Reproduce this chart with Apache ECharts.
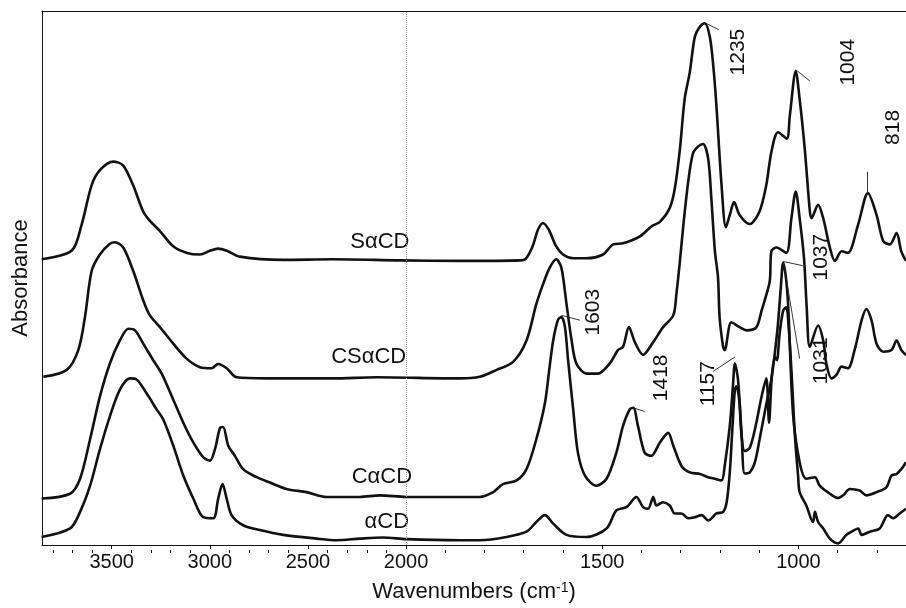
<!DOCTYPE html>
<html>
<head>
<meta charset="utf-8">
<script src="https://cdn.jsdelivr.net/npm/echarts@6/dist/echarts.min.js"></script>
<style>
html, body { margin: 0; padding: 0; background: #fff; }
#chart-container { width: 906px; height: 608px; }
</style>
</head>
<body>
<div id="chart-container"></div>
<script>
// spectra: wavenumber (cm-1) and absorbance (arbitrary units, offset stacked)
var saCD_wn  = [3857,3704,3653,3602,3560,3492,3442,3391,3340,3305,3254,3188,3116,3050,2999,2958,2913,2846,2627,2373,2032,1863,1710,1695,1677,1664,1651,1636,1618,1600,1574,1540,1498,1472,1447,1404,1374,1353,1328,1315,1302,1290,1277,1264,1251,1239,1226,1217,1209,1196,1185,1175,1164,1150,1124,1099,1082,1069,1052,1030,1022,1007,997,984,971,967,950,937,920,907,890,874,848,823,801,784,767,750,738,726];
var saCD_abs = [53.5,55.1,60.0,67.4,70.2,71.8,71.1,67.4,62.5,60.7,58.8,56.0,54.7,54.4,55.1,55.5,55.1,54.0,53.4,53.5,53.3,53.2,53.3,53.6,56.0,59.0,60.3,59.0,56.0,54.4,53.7,53.7,54.4,56.3,56.5,57.8,59.7,60.5,63.1,66.8,74.2,83.5,88.5,95.2,97.1,97.7,95.2,89.7,82.2,67.4,59.5,61.8,64.2,61.8,60.1,62.5,67.4,73.6,77.3,76.1,80.4,88.7,83.5,74.2,62.5,61.2,63.7,61.2,55.7,53.2,55.0,54.7,60.0,65.9,61.8,56.9,56.3,58.4,55.0,53.2];

var csaCD_wn  = [3848,3729,3670,3636,3602,3560,3509,3483,3441,3390,3339,3305,3254,3186,3118,3050,2991,2957,2914,2863,2710,2371,2150,1863,1812,1769,1727,1693,1668,1651,1634,1617,1604,1591,1578,1566,1540,1511,1481,1460,1447,1432,1417,1396,1370,1345,1319,1311,1302,1294,1281,1269,1256,1243,1230,1222,1213,1205,1201,1192,1188,1171,1150,1132,1107,1094,1086,1073,1069,1056,1031,1018,1007,997,986,979,971,950,937,929,916,903,890,874,857,839,827,814,801,784,763,750,738,726];
var csaCD_abs = [31.5,32.8,36.5,42.7,51.3,54.4,56.4,56.7,55.7,51.3,45.8,43.0,40.8,37.7,34.9,33.3,33.1,33.9,33.1,31.4,31.2,31.2,31.4,31.2,31.5,32.8,34.3,38.3,45.1,48.8,51.9,53.5,51.9,45.1,38.3,34.0,32.1,32.1,34.0,36.5,37.1,40.8,38.0,35.6,38.0,40.8,43.0,47.0,53.2,59.4,68.0,73.3,74.6,75.1,72.3,64.9,55.1,50.1,42.7,37.1,36.5,41.7,40.8,40.2,40.8,43.9,45.8,49.5,55.0,55.7,54.7,61.2,66.2,61.2,53.8,44.5,37.1,41.1,38.3,34.0,31.2,31.9,33.4,33.1,36.5,42.1,44.2,42.1,37.7,36.2,36.5,38.3,36.5,35.6];

var caCD_wn  = [3857,3712,3661,3610,3560,3509,3458,3415,3381,3339,3288,3245,3186,3135,3084,3033,2999,2974,2948,2932,2906,2872,2830,2761,2694,2609,2507,2405,2235,2133,1999,1863,1812,1778,1753,1718,1693,1668,1646,1634,1625,1613,1604,1595,1587,1574,1562,1544,1515,1489,1464,1447,1430,1421,1409,1392,1375,1353,1332,1319,1298,1277,1251,1230,1213,1196,1188,1175,1167,1162,1154,1145,1137,1124,1111,1099,1083,1068,1053,1045,1039,1032,1026,1014,997,980,958,946,920,899,886,869,844,827,801,776,763,750,738,726];
var caCD_abs = [8.7,9.6,12.4,19.8,27.8,34.0,38.3,40.5,40.2,37.7,34.6,32.1,27.2,22.9,19.2,16.4,15.8,17.9,21.9,22.1,18.6,16.7,14.2,12.7,11.7,10.5,9.9,9.0,9.0,9.3,9.0,9.0,9.0,9.9,11.4,12.1,14.2,19.8,26.6,33.4,38.3,42.1,42.7,40.8,34.6,25.4,17.3,13.0,11.1,12.4,17.3,22.3,25.4,25.7,22.3,17.3,16.7,19.2,21.0,18.6,14.8,13.6,13.3,12.7,12.4,12.1,14.8,22.3,29.7,34.0,30.9,21.0,13.4,13.6,15.5,19.8,26.0,31.5,40.8,48.2,52.9,50.1,44.5,24.7,15.5,12.4,12.7,11.1,9.6,8.8,9.3,10.5,10.2,9.3,9.9,10.8,13.0,13.3,14.2,15.5];

var aCD_wn  = [3857,3712,3661,3610,3560,3509,3458,3407,3373,3322,3271,3237,3186,3135,3084,3033,2982,2957,2935,2914,2889,2830,2745,2626,2456,2354,2235,2117,1999,1863,1812,1744,1693,1668,1646,1625,1591,1540,1489,1464,1438,1413,1396,1383,1370,1362,1345,1328,1315,1298,1281,1264,1247,1230,1209,1192,1183,1175,1168,1162,1158,1151,1145,1137,1124,1109,1094,1082,1075,1068,1060,1055,1048,1039,1031,1025,1017,1009,1001,997,980,963,958,950,937,920,899,878,865,848,839,818,793,772,759,742,726];
var aCD_abs = [1.5,3.1,6.2,11.1,17.9,24.1,29.1,31.2,31.0,28.4,25.4,23.5,18.6,13.0,8.7,5.2,5.0,8.7,11.4,8.7,5.6,3.7,2.8,1.9,1.2,0.9,1.2,1.4,1.1,0.9,0.9,1.5,2.5,4.3,5.6,4.0,1.9,1.5,3.1,6.5,7.1,9.0,7.1,6.8,9.0,7.4,8.0,7.4,5.9,5.9,5.0,5.2,5.6,4.6,5.9,6.2,8.0,13.6,22.3,29.1,29.7,27.2,20.4,17.6,18.2,22.3,27.8,31.2,22.9,31.5,35.2,34.6,39.6,43.9,44.5,40.8,31.5,20.4,13.0,9.9,7.4,4.3,6.2,4.3,3.1,1.2,0.3,1.9,2.5,3.1,1.9,2.5,3.1,5.6,5.0,5.9,6.8];

var curveNames = ['S\u03b1CD', 'CS\u03b1CD', 'C\u03b1CD', '\u03b1CD'];
var tickLabels = [3500, 3000, 2500, 2000, 1500, 1000];

// annotations (peak labels and the small leader lines)
var peakText   = ['1235', '1004', '818', '1037', '1031', '1603', '1418', '1157'];
var peakTextWn = [1153, 872, 758, 942, 943, 1523, 1350, 1229];
var peakTextA  = [92.3, 90.4, 78.2, 53.9, 34.5, 43.6, 31.3, 30.2];
var leadFromWn = [1239, 1007, 824, 1039, 1037, 1604, 1421, 1162];
var leadFromA  = [97.8, 89.0, 69.9, 53.1, 52.5, 43.0, 25.7, 35.2];
var leadToWn   = [1203, 971, 824, 989, 997, 1557, 1392, 1218];
var leadToA    = [96.5, 86.9, 65.9, 52.3, 34.9, 42.1, 25.0, 32.5];
var nameWn = [2133, 2190, 2123, 2098];
var nameA  = [56.8, 35.2, 12.8, 4.3];

var wnLeft = 3855, wnRight = 726;

// above 2000 cm-1 the axis is compressed by 2
function toAxis(w) { return w > 2000 ? 2000 + (w - 2000) / 2 : w; }
function fromAxis(u) { return u > 2000 ? Math.round(2000 + (u - 2000) * 2) : Math.round(u); }

var minorTicks = [];
for (var t = 3800; t >= 800; t -= 100) {
    if (t % 500 !== 0) minorTicks.push(toAxis(t));
}

function pairs(wn, ab) {
    return wn.map(function (w, i) { return [toAxis(w), ab[i]]; });
}

var font = 'Liberation Sans, Arial, Helvetica, sans-serif';
var spectra = [[saCD_wn, saCD_abs], [csaCD_wn, csaCD_abs], [caCD_wn, caCD_abs], [aCD_wn, aCD_abs]];

var dom = document.getElementById('chart-container');
var myChart = echarts.init(dom, null, { renderer: 'canvas' });

var series = spectra.map(function (s, i) {
    var out = {
        name: curveNames[i],
        type: 'line',
        xAxisIndex: 0,
        yAxisIndex: 0,
        data: pairs(s[0], s[1]),
        showSymbol: false,
        smooth: 0.3,
        lineStyle: { color: '#111', width: 2.6 },
        z: 3
    };
    if (i === 0) {
        out.markLine = {
            silent: true,
            symbol: 'none',
            label: { show: false },
            lineStyle: { type: 'dotted', color: '#9a9a9a', width: 1 },
            data: [{ xAxis: toAxis(2000) }]
        };
    }
    return out;
});

series.push({
    type: 'scatter',
    symbolSize: 0,
    silent: true,
    itemStyle: { opacity: 1, color: '#111' },
    data: curveNames.map(function (n, i) { return [toAxis(nameWn[i]), nameA[i], n]; }),
    label: {
        show: true, position: 'inside',
        formatter: function (p) { return p.value[2]; },
        color: '#111', fontSize: 22, fontFamily: font, opacity: 1,
        textBorderWidth: 0, textBorderColor: 'transparent'
    },
    z: 4
});

series.push({
    type: 'scatter',
    symbolSize: 0,
    silent: true,
    itemStyle: { opacity: 1, color: '#111' },
    data: peakText.map(function (n, i) { return [toAxis(peakTextWn[i]), peakTextA[i], n]; }),
    label: {
        show: true, position: 'inside', rotate: 90,
        align: 'center', verticalAlign: 'middle',
        formatter: function (p) { return p.value[2]; },
        color: '#111', fontSize: 21, fontFamily: font, opacity: 1,
        textBorderWidth: 0, textBorderColor: 'transparent'
    },
    z: 4
});

series.push({
    type: 'lines',
    coordinateSystem: 'cartesian2d',
    silent: true,
    symbol: 'none',
    lineStyle: { color: '#222', width: 0.9, opacity: 1 },
    data: peakText.map(function (n, i) {
        return { coords: [[toAxis(leadFromWn[i]), leadFromA[i]], [toAxis(leadToWn[i]), leadToA[i]]] };
    }),
    z: 4
});

var option = {
    animation: false,
    backgroundColor: '#fff',
    grid: [
        { left: 42, right: 0, top: 11, bottom: 58 },
        { left: 42, right: 0, top: 11, bottom: 58 }
    ],
    xAxis: [
        {
            type: 'value', gridIndex: 0, position: 'bottom', inverse: true,
            min: toAxis(wnRight), max: toAxis(wnLeft),
            axisLine: { lineStyle: { color: '#111', width: 1 } },
            axisTick: { customValues: tickLabels.map(toAxis), length: 4, lineStyle: { color: '#111' } },
            axisLabel: {
                customValues: tickLabels.map(toAxis),
                formatter: function (v) { return fromAxis(v); },
                fontSize: 20, color: '#111', margin: 7, fontFamily: font
            },
            splitLine: { show: false },
            name: 'Wavenumbers (cm{sup|-1})',
            nameLocation: 'middle',
            nameGap: 36,
            nameTextStyle: {
                fontSize: 22, color: '#111', fontFamily: font,
                rich: { sup: { fontSize: 14, color: '#111', fontFamily: font, verticalAlign: 'top' } }
            }
        },
        {
            type: 'value', gridIndex: 0, position: 'top', inverse: true,
            min: toAxis(wnRight), max: toAxis(wnLeft),
            axisLine: { lineStyle: { color: '#111', width: 1 } },
            axisTick: { show: false },
            axisLabel: { show: false },
            splitLine: { show: false }
        },
        {
            type: 'value', gridIndex: 1, position: 'bottom', inverse: true,
            min: toAxis(wnRight), max: toAxis(wnLeft),
            axisLine: { show: false },
            axisTick: { customValues: minorTicks, length: 3, lineStyle: { color: '#111' } },
            axisLabel: { show: false },
            splitLine: { show: false }
        }
    ],
    yAxis: [
        {
            type: 'value', gridIndex: 0, min: 0, max: 100,
            axisLine: { show: true, lineStyle: { color: '#111', width: 1 } },
            axisTick: { show: false },
            axisLabel: { show: false },
            splitLine: { show: false },
            name: 'Absorbance',
            nameLocation: 'middle',
            nameRotate: 90,
            nameGap: 10,
            nameTextStyle: { fontSize: 22, color: '#111', fontFamily: font }
        },
        {
            type: 'value', gridIndex: 1, min: 0, max: 100, show: false
        }
    ],
    series: series
};

if (option && typeof option === 'object') {
    myChart.setOption(option);
}

window.addEventListener('resize', myChart.resize);
</script>
</body>
</html>
